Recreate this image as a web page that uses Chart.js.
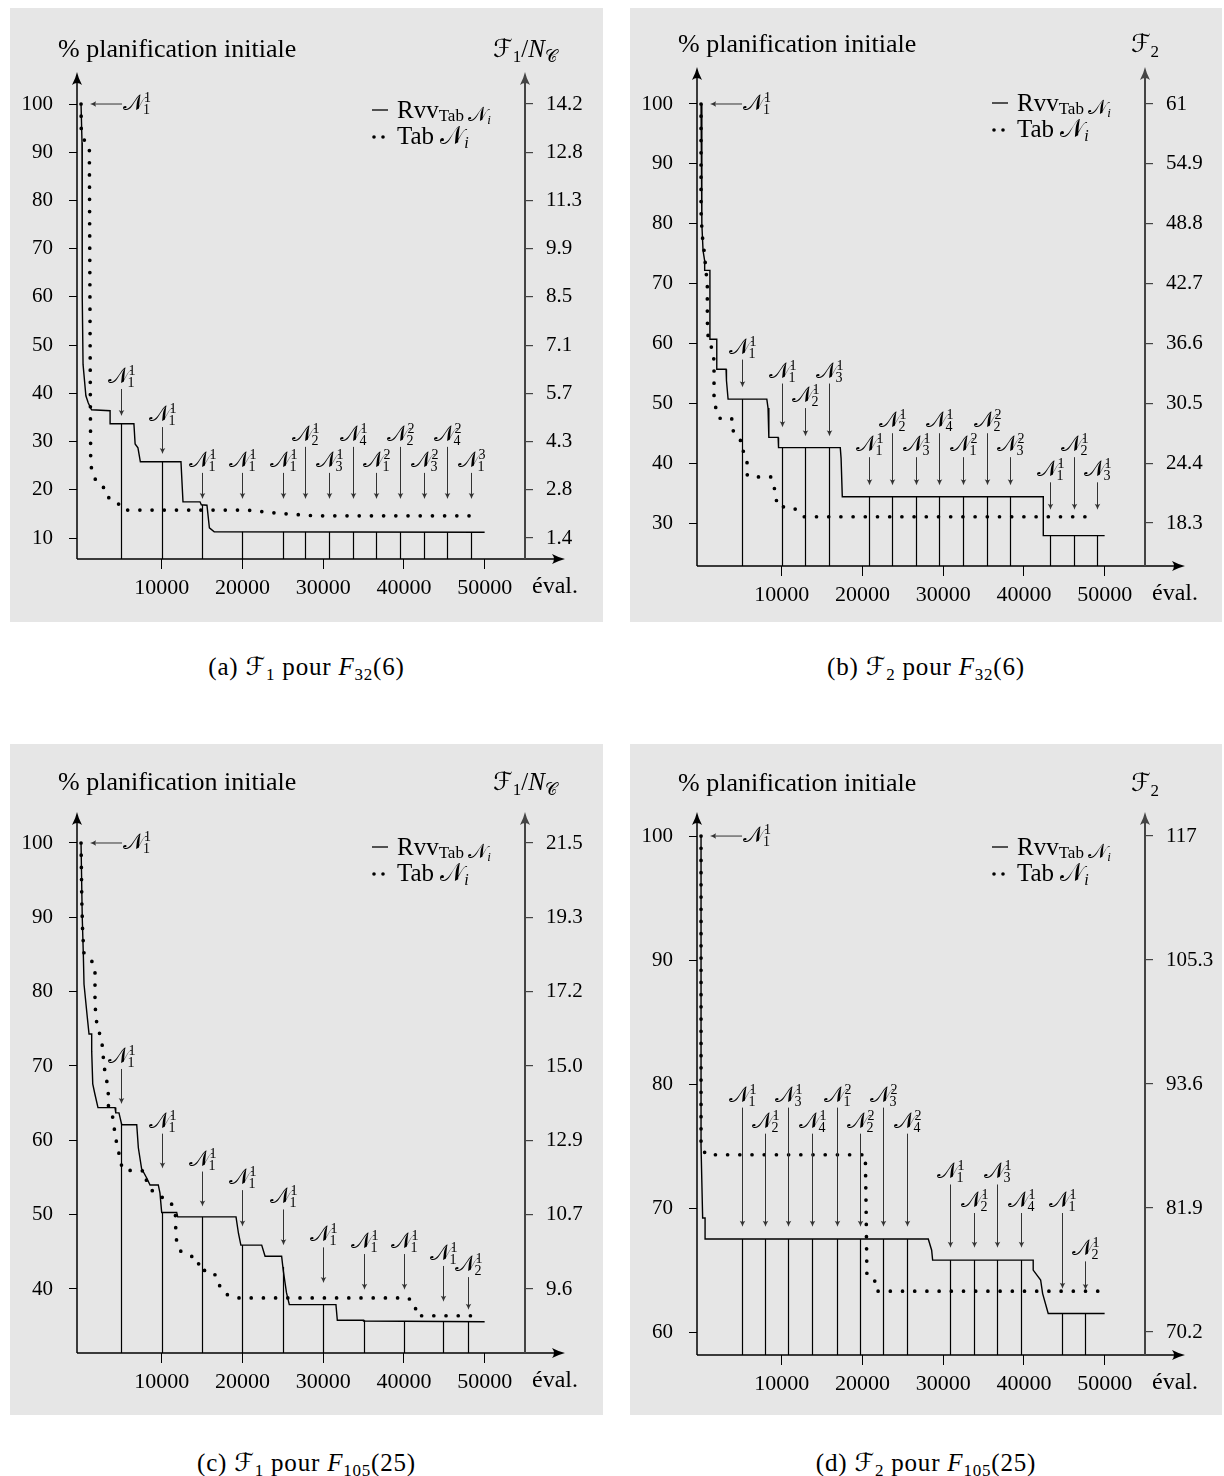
<!DOCTYPE html>
<html lang="fr">
<head>
<meta charset="utf-8">
<title>Rvv / Tab</title>
<script src="https://cdn.jsdelivr.net/npm/chart.js@4.4.1/dist/chart.umd.min.js"></script>
<style>
  body { margin: 0; background: #fff; width: 1224px; height: 1476px; position: relative;
         font-family: 'Liberation Serif', 'DejaVu Serif', 'DejaVu Sans', serif; color: #000; }
  .panel { position: absolute; background: #e6e6e6; }
  .panel canvas { display: block; }
  .cap { position: absolute; text-align: center; font-size: 25px; line-height: 30px; letter-spacing: 0.8px; }
  .cap sub { font-size: 17px; vertical-align: -5px; line-height: 0; }
</style>
</head>
<body>
<div class="panel" style="left:10px;top:8px;width:593px;height:614px"><canvas id="ca" width="593" height="614"></canvas></div>
<div class="panel" style="left:630px;top:8px;width:592px;height:614px"><canvas id="cb" width="592" height="614"></canvas></div>
<div class="panel" style="left:10px;top:744px;width:593px;height:671px"><canvas id="cc" width="593" height="671"></canvas></div>
<div class="panel" style="left:630px;top:744px;width:592px;height:671px"><canvas id="cd" width="592" height="671"></canvas></div>

<div class="cap" style="left:10px;top:652px;width:593px">(a) ℱ<sub>1</sub> pour <i>F</i><sub>32</sub>(6)</div>
<div class="cap" style="left:630px;top:652px;width:592px">(b) ℱ<sub>2</sub> pour <i>F</i><sub>32</sub>(6)</div>
<div class="cap" style="left:10px;top:1448px;width:593px">(c) ℱ<sub>1</sub> pour <i>F</i><sub>105</sub>(25)</div>
<div class="cap" style="left:630px;top:1448px;width:592px">(d) ℱ<sub>2</sub> pour <i>F</i><sub>105</sub>(25)</div>

<script>
const FAM = "'Liberation Serif', 'DejaVu Serif', 'DejaVu Sans', serif";
const xTicks = [10000, 20000, 30000, 40000, 50000];

// (a) F1 pour F32(6)
const leftTicksA = [10, 20, 30, 40, 50, 60, 70, 80, 90, 100];
const rightTicksA = ['1.4', '2.8', '4.3', '5.7', '7.1', '8.5', '9.9', '11.3', '12.8', '14.2'];
const rvvA = [[0, 100], [120, 92], [150, 60], [250, 46], [600, 39.5], [900, 38], [1300, 36.6], [3600, 36.4],
  [3600, 33.7], [6550, 33.7], [6700, 29.5], [7050, 28.7], [7350, 25.8], [12380, 25.8], [12630, 17.5],
  [14740, 17.5], [14900, 16.9], [15600, 16.8], [15900, 12.1], [16500, 11.3], [50000, 11.2]];
const tabA = [[0, 100], [30, 94.5], [370, 92.6], [1030, 91.2], [1150, 40], [1200, 25.1], [1530, 23.1],
  [2020, 21.2], [3100, 20.2], [3470, 18.2], [4500, 17.4], [5160, 15.8], [20500, 15.8], [21750, 15.6],
  [23300, 15.3], [26300, 14.9], [29000, 14.6], [49300, 14.6]];
const markXA = [5000, 10000, 15000, 20000, 25000, 27800, 30750, 33650, 36600, 39500, 42450, 45350, 48300];
const markTipA = [35.3, 27.4, 18.1, 18.1, 18.1, 18.1, 18.1, 18.1, 18.1, 18.1, 18.1, 18.1, 18.1];
const markTopA = [40.9, 33, 23.5, 23.5, 23.5, 28.9, 23.5, 28.9, 23.5, 28.9, 23.5, 28.9, 23.5];
const markLabA = ['1,1', '1,1', '1,1', '1,1', '1,1', '2,1', '3,1', '4,1', '1,2', '2,2', '3,2', '4,2', '1,3'];

// (b) F2 pour F32(6)
const leftTicksB = [30, 40, 50, 60, 70, 80, 90, 100];
const rightTicksB = ['18.3', '24.4', '30.5', '36.6', '42.7', '48.8', '54.9', '61'];
const rvvB = [[0, 100], [100, 80], [250, 75.5], [450, 73.8], [450, 72.2], [1100, 72.2], [1100, 60.7],
  [1950, 60.7], [1950, 55.7], [3100, 55.7], [3150, 53.8], [3350, 50.7], [8150, 50.7], [8300, 49.2],
  [8400, 44.3], [9550, 44.3], [9600, 42.6], [17250, 42.6], [17350, 40.8], [17500, 34.4], [42400, 34.4],
  [42400, 27.9], [50000, 27.9]];
const tabB = [[0, 100], [0, 82], [100, 79.3], [210, 77.3], [370, 75.6], [620, 72], [780, 70], [780, 66],
  [800, 62], [990, 60.2], [1490, 58.8], [1610, 56.9], [1610, 50.8], [1860, 49], [2270, 47.5], [3800, 47.5],
  [3880, 45.7], [4420, 44.3], [5240, 43.4], [5240, 41.4], [5730, 40], [5730, 37.9], [7100, 37.7],
  [8630, 37.7], [9040, 36.2], [9250, 34.4], [9500, 32.7], [11020, 32.7], [12050, 32.1], [12750, 31.05],
  [49000, 31.05]];
const markXB = [5040, 10000, 12880, 15850, 20800, 23690, 26590, 29510, 32410, 35380, 38270, 43220, 46150, 49040];
const markTipB = [52.7, 46, 44.5, 44.5, 36.3, 36.3, 36.3, 36.3, 36.3, 36.3, 36.3, 32.2, 32.2, 32.2];
const markTopB = [57.3, 53.3, 49.2, 53.3, 41, 45, 41, 45, 41, 45, 41, 36.8, 41, 36.8];
const markLabB = ['1,1', '1,1', '2,1', '3,1', '1,1', '2,1', '3,1', '4,1', '1,2', '2,2', '3,2', '1,1', '2,1', '3,1'];

// (c) F1 pour F105(25)
const leftTicksC = [40, 50, 60, 70, 80, 90, 100];
const rightTicksC = ['9.6', '10.7', '12.9', '15.0', '17.2', '19.3', '21.5'];
const rvvC = [[0, 100], [150, 90], [285, 85], [370, 81], [780, 76.5], [990, 74.3], [1320, 74.3], [1320, 72],
  [1450, 67.6], [1700, 66.3], [2100, 64.4], [4210, 64.4], [4300, 63.7], [4700, 63.7], [5040, 62.1],
  [6900, 62.1], [7100, 59], [7500, 56.2], [8150, 54.9], [8550, 54], [9570, 54], [9780, 52.9], [9990, 50.3],
  [11850, 50.3], [11980, 49.7], [19200, 49.7], [19500, 47.5], [19800, 45.9], [22380, 45.9], [22800, 44.4],
  [24850, 44.4], [25050, 42.5], [25450, 39.5], [25800, 37.9], [31580, 37.9], [31750, 35.8], [35000, 35.8],
  [35000, 35.7], [50000, 35.6]];
const tabC = [[0, 100], [100, 92], [200, 88], [370, 85.1], [1200, 84.4], [1730, 83.2], [1730, 78.3],
  [1860, 76.6], [2020, 75.1], [2440, 74], [2680, 72.4], [2770, 71], [2970, 69.1], [3260, 67.6], [3380, 66.2],
  [3380, 64.7], [3880, 63.4], [4090, 61.8], [4290, 60.3], [4540, 59], [4830, 57.6], [5120, 56.1],
  [6400, 55.9], [7930, 55.9], [8130, 54.4], [8750, 53.3], [9580, 52.5], [10740, 52.1], [11440, 51.1],
  [11730, 49.7], [11730, 48], [11850, 46.3], [12340, 45.1], [13370, 44.5], [14530, 44.1], [14610, 42.5],
  [16060, 42.5], [16880, 41.6], [17210, 40.3], [17960, 39.3], [19200, 38.8], [40530, 38.8], [41360, 38],
  [41570, 36.4], [49200, 36.4]];
const markXC = [5000, 10000, 15000, 20000, 25000, 30000, 35000, 40000, 44900, 47900];
const markTipC = [64.9, 56.2, 51.1, 48.4, 45.9, 40.8, 39.9, 39.9, 38.3, 37.2];
const markTopC = [69.6, 60.9, 55.8, 53.3, 50.7, 45.6, 44.7, 44.7, 43.1, 41.6];
const markLabC = ['1,1', '1,1', '1,1', '1,1', '1,1', '1,1', '1,1', '1,1', '1,1', '2,1'];

// (d) F2 pour F105(25)
const leftTicksD = [60, 70, 80, 90, 100];
const rightTicksD = ['70.2', '81.9', '93.6', '105.3', '117'];
const rvvD = [[0, 100], [0, 75], [200, 69.2], [500, 69.2], [500, 67.5], [28150, 67.5], [28570, 66.6],
  [28690, 65.8], [41150, 65.8], [41150, 65], [42070, 64.2], [42320, 63.1], [43010, 61.5], [50000, 61.5]];
const tabD = [[0, 100], [0, 75], [620, 74.3], [20350, 74.3], [20450, 70], [20550, 64.5], [21550, 64.1],
  [21700, 63.3], [49200, 63.3]];
const markXD = [5040, 7930, 10830, 13720, 16820, 19710, 22600, 25500, 30900, 33770, 36640, 39590, 44710, 47580];
const markTipD = [68.5, 68.5, 68.5, 68.5, 68.5, 68.5, 68.5, 68.5, 66.8, 66.8, 66.8, 66.8, 63.5, 63.4];
const markTopD = [78.1, 76, 78.1, 76, 78.1, 76, 78.1, 76, 71.9, 69.6, 71.9, 69.6, 69.6, 65.7];
const markLabD = ['1,1', '2,1', '3,1', '4,1', '1,2', '2,2', '3,2', '4,2', '1,1', '2,1', '3,1', '4,1', '1,1', '2,1'];

const panels = [
  { id: 'ca', rvv: rvvA, tab: tabA, left: leftTicksA, right: rightTicksA, mx: markXA, mtip: markTipA, mtop: markTopA, mlab: markLabA,
    yMin: 5.645, yMax: 106.64, top: 64, bottom: 551, titleY: 49, legendY: 110, fTitle: '1' },
  { id: 'cb', rvv: rvvB, tab: tabB, left: leftTicksB, right: rightTicksB, mx: markXB, mtip: markTipB, mtop: markTopB, mlab: markLabB,
    yMin: 22.82, yMax: 106.18, top: 59, bottom: 558, titleY: 44, legendY: 103, fTitle: '2' },
  { id: 'cc', rvv: rvvC, tab: tabC, left: leftTicksC, right: rightTicksC, mx: markXC, mtip: markTipC, mtop: markTopC, mlab: markLabC,
    yMin: 31.39, yMax: 104.17, top: 68, bottom: 609, titleY: 46, legendY: 111, fTitle: '1' },
  { id: 'cd', rvv: rvvD, tab: tabD, left: leftTicksD, right: rightTicksD, mx: markXD, mtip: markTipD, mtop: markTopD, mlab: markLabD,
    yMin: 58.15, yMax: 101.94, top: 68, bottom: 611, titleY: 47, legendY: 111, fTitle: '2' }
];
const panelById = {};
panels.forEach(p => { panelById[p.id] = p; });

function valueAt(pts, x) {
  for (let i = 1; i < pts.length; i++) {
    if (x <= pts[i][0]) {
      const [x0, y0] = pts[i - 1], [x1, y1] = pts[i];
      return x1 === x0 ? y1 : y0 + (y1 - y0) * (x - x0) / (x1 - x0);
    }
  }
  return pts[pts.length - 1][1];
}

function arrowHead(ctx, x, y, ang, len, hw) {
  ctx.save();
  ctx.translate(x, y);
  ctx.rotate(ang);
  ctx.beginPath();
  ctx.moveTo(0, 0);
  ctx.quadraticCurveTo(-len * 0.45, hw * 0.25, -len, hw);
  ctx.quadraticCurveTo(-len * 0.7, 0, -len, -hw);
  ctx.quadraticCurveTo(-len * 0.45, -hw * 0.25, 0, 0);
  ctx.closePath();
  ctx.fill();
  ctx.restore();
}

// draws text pieces one after another: {t, size, dy, it}
function rich(ctx, segs, x, y, align) {
  const font = s => (s.it ? 'italic ' : '') + s.size + 'px ' + FAM;
  let w = 0;
  segs.forEach(s => { ctx.font = font(s); w += ctx.measureText(s.t).width + (s.kern || 0); });
  let cx = align === 'center' ? x - w / 2 : x;
  segs.forEach(s => {
    ctx.font = font(s);
    ctx.fillText(s.t, cx, y + (s.dy || 0));
    cx += ctx.measureText(s.t).width + (s.kern || 0);
  });
  return w;
}

// N with stacked sub- and superscript
function drawN(ctx, x, y, lab, align) {
  const [sub, sup] = lab.split(',');
  ctx.font = '22px ' + FAM;
  const wN = ctx.measureText('𝒩').width;
  ctx.font = '14px ' + FAM;
  const wS = Math.max(ctx.measureText(sub).width, ctx.measureText(sup).width);
  const x0 = align === 'center' ? x - (wN + wS) / 2 : x;
  ctx.font = '22px ' + FAM;
  ctx.fillText('𝒩', x0, y);
  ctx.font = '14px ' + FAM;
  ctx.fillText(sup, x0 + wN, y - 8);
  ctx.fillText(sub, x0 + wN - 1, y + 4);
}

const decor = {
  id: 'decor',
  afterDatasetsDraw(chart) {
    const p = panelById[chart.canvas.id];
    const { ctx } = chart;
    const { left: L, right: R, top: T, bottom: B } = chart.chartArea;
    const xs = chart.scales.x, ys = chart.scales.y;
    ctx.save();
    ctx.fillStyle = '#000';
    ctx.textBaseline = 'alphabetic';
    ctx.textAlign = 'left';

    // vertical drop lines and arrows of the neighbourhood changes
    p.mx.forEach((v, i) => {
      const px = Math.round(xs.getPixelForValue(v)) + 0.5;
      const yc = ys.getPixelForValue(valueAt(p.rvv, v));
      ctx.strokeStyle = '#000';
      ctx.lineWidth = 1.2;
      ctx.beginPath(); ctx.moveTo(px, yc); ctx.lineTo(px, B); ctx.stroke();
      const y0 = ys.getPixelForValue(p.mtop[i]), y1 = ys.getPixelForValue(p.mtip[i]);
      ctx.strokeStyle = '#333';
      ctx.fillStyle = '#333';
      ctx.lineWidth = 1;
      ctx.beginPath(); ctx.moveTo(px, y0); ctx.lineTo(px, y1 - 4); ctx.stroke();
      arrowHead(ctx, px, y1, Math.PI / 2, 6, 2.8);
      ctx.fillStyle = '#000';
      drawN(ctx, px, y0 - 6, p.mlab[i], 'center');
    });

    // first solution
    const p0x = xs.getPixelForValue(0), p0y = ys.getPixelForValue(100);
    ctx.strokeStyle = '#333';
    ctx.fillStyle = '#333';
    ctx.lineWidth = 1;
    ctx.beginPath(); ctx.moveTo(p0x + 41, p0y); ctx.lineTo(p0x + 13, p0y); ctx.stroke();
    arrowHead(ctx, p0x + 9, p0y, Math.PI, 6, 2.8);
    ctx.fillStyle = '#000';
    drawN(ctx, p0x + 42, p0y + 6, '1,1', 'left');

    // axes with arrows
    ctx.strokeStyle = '#000';
    ctx.lineWidth = 1.5;
    ctx.beginPath(); ctx.moveTo(L, B); ctx.lineTo(L, T + 6); ctx.stroke();
    ctx.beginPath(); ctx.moveTo(L, B); ctx.lineTo(R + 34, B); ctx.stroke();
    arrowHead(ctx, L, T, -Math.PI / 2, 13, 5);
    arrowHead(ctx, R + 40, B, 0, 13, 5);
    ctx.strokeStyle = '#444';
    ctx.fillStyle = '#444';
    ctx.lineWidth = 2;
    ctx.beginPath(); ctx.moveTo(R, B); ctx.lineTo(R, T + 6); ctx.stroke();
    arrowHead(ctx, R, T, -Math.PI / 2, 13, 5);
    ctx.fillStyle = '#000';

    // axis titles
    ctx.font = '26px ' + FAM;
    ctx.fillText('% planification initiale', 48, p.titleY);
    const rt = [{ t: 'ℱ', size: 25 }, { t: p.fTitle, size: 17, dy: 5 }];
    if (p.fTitle === '1') rt.push({ t: '/', size: 25 }, { t: 'N', size: 25, it: true }, { t: '𝒞', size: 17, dy: 5 });
    rich(ctx, rt, R, p.titleY, 'center');
    ctx.textBaseline = 'middle';
    ctx.font = '24px ' + FAM;
    ctx.fillText('éval.', R + 7, B + 28);
    ctx.textBaseline = 'alphabetic';

    // legend
    const lx = R - 153, ly = p.legendY;
    ctx.strokeStyle = '#000';
    ctx.lineWidth = 1.3;
    ctx.beginPath(); ctx.moveTo(lx, ly - 8); ctx.lineTo(lx + 16, ly - 8); ctx.stroke();
    rich(ctx, [{ t: 'Rvv', size: 25 }, { t: 'Tab ', size: 17, dy: 3 }, { t: '𝒩', size: 20, dy: 3 }, { t: 'i', size: 13, dy: 6, it: true }], lx + 25, ly, 'left');
    [lx + 2, lx + 11].forEach(dx => { ctx.beginPath(); ctx.arc(dx, ly + 26 - 7, 1.8, 0, Math.PI * 2); ctx.fill(); });
    rich(ctx, [{ t: 'Tab ', size: 25 }, { t: '𝒩', size: 25 }, { t: 'i', size: 16, dy: 4, it: true }], lx + 25, ly + 26, 'left');
    ctx.restore();
  }
};

function buildChart(p) {
  const canvas = document.getElementById(p.id);
  const W = canvas.width, H = canvas.height;
  const toXY = pts => pts.map(([x, y]) => ({ x, y }));
  const tickFont = { family: FAM, size: 21 };
  const yTicks = s => { s.ticks = p.left.map(v => ({ value: v })); };
  return new Chart(canvas, {
    type: 'line',
    data: {
      datasets: [
        { label: 'Tab Ni', data: toXY(p.tab), borderColor: '#000', borderWidth: 3.7, borderDash: [0, 12.2],
          borderCapStyle: 'round', borderJoinStyle: 'round', pointRadius: 0, tension: 0, fill: false },
        { label: 'Rvv Tab Ni', data: toXY(p.rvv), borderColor: '#000', borderWidth: 1.4, pointRadius: 0,
          tension: 0, fill: false }
      ]
    },
    options: {
      responsive: false,
      animation: false,
      events: [],
      layout: { padding: { top: p.top, left: 0, right: 0, bottom: 0 } },
      plugins: { legend: { display: false }, tooltip: { enabled: false } },
      scales: {
        x: {
          type: 'linear', min: -500, max: 55000,
          border: { display: false },
          grid: { drawOnChartArea: false, tickLength: 10, color: '#000', tickColor: '#000', lineWidth: 1 },
          ticks: { font: { family: FAM, size: 22 }, color: '#000', padding: 6, maxRotation: 0, callback: v => String(v) },
          afterBuildTicks: s => { s.ticks = xTicks.map(v => ({ value: v })); },
          afterFit: s => { s.height = H - p.bottom; }
        },
        y: {
          position: 'left', min: p.yMin, max: p.yMax,
          border: { display: false },
          grid: { drawOnChartArea: false, tickLength: 8, color: '#000', tickColor: '#000', lineWidth: 1 },
          ticks: { font: tickFont, color: '#000', padding: 16, callback: v => String(v) },
          afterBuildTicks: yTicks,
          afterFit: s => { s.width = 67; }
        },
        y2: {
          position: 'right', min: p.yMin, max: p.yMax,
          border: { display: false },
          grid: { drawOnChartArea: false, tickLength: 8, color: '#444', tickColor: '#444', lineWidth: 1.2 },
          ticks: { font: tickFont, color: '#000', padding: 13, callback: v => p.right[p.left.indexOf(v)] },
          afterBuildTicks: yTicks,
          afterFit: s => { s.width = W - 515; }
        }
      }
    },
    plugins: [decor]
  });
}

document.fonts.load("21px 'Liberation Serif'").finally(() => panels.forEach(buildChart));
</script>
</body>
</html>
